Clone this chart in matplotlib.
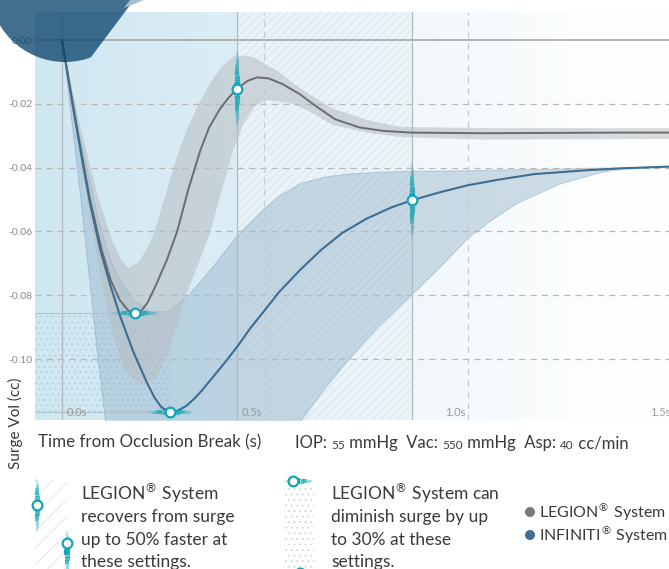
import numpy as np
import matplotlib
matplotlib.use("Agg")
import matplotlib.pyplot as plt
from matplotlib.colors import to_rgb, to_rgba
from matplotlib.patches import Circle, Polygon, Rectangle
from matplotlib.collections import LineCollection

plt.rcParams['font.family'] = ['Lato', 'DejaVu Sans']
plt.rcParams['hatch.linewidth'] = 0.6

# surge curves (time in s, surge volume in cc)
legion_t = [0, 0.02, 0.05, 0.08, 0.114, 0.14, 0.165, 0.19, 0.209, 0.225, 0.245, 0.271, 0.30,
            0.329, 0.36, 0.394, 0.42, 0.45, 0.475, 0.50, 0.53, 0.557, 0.59, 0.63, 0.68, 0.72,
            0.78, 0.85, 0.92, 1.0, 1.2, 1.4, 1.6, 1.75]
legion_v = [0, -0.013, -0.032, -0.050, -0.066, -0.0755, -0.0815, -0.0849, -0.0856, -0.0851,
            -0.0822, -0.0762, -0.0688, -0.0600, -0.0472, -0.0350, -0.0275, -0.0218, -0.0182,
            -0.0153, -0.0128, -0.0117, -0.0120, -0.0138, -0.0170, -0.0203, -0.0248, -0.0274,
            -0.0285, -0.0290, -0.0292, -0.0291, -0.0290, -0.0290]

infiniti_t = [0, 0.03, 0.06, 0.08, 0.109, 0.137, 0.166, 0.203, 0.243, 0.265, 0.285, 0.309, 0.33,
              0.355, 0.38, 0.40, 0.43, 0.466, 0.50, 0.537, 0.577, 0.62, 0.68, 0.74, 0.80, 0.87,
              0.94, 1.0, 1.08, 1.16, 1.25, 1.35, 1.5, 1.6, 1.75]
infiniti_v = [0, -0.020, -0.039, -0.051, -0.0655, -0.0765, -0.0865, -0.0975, -0.1075, -0.1122,
              -0.1152, -0.1166, -0.1162, -0.1147, -0.1122, -0.1098, -0.1058, -0.1010, -0.0962,
              -0.0905, -0.0850, -0.0790, -0.0721, -0.0658, -0.0605, -0.0560, -0.0525, -0.0502,
              -0.0477, -0.0455, -0.0437, -0.0420, -0.0408, -0.0402, -0.0396]

# spread bands
legion_band_t = [0, 0.05, 0.10, 0.14, 0.17, 0.19, 0.22, 0.25, 0.27, 0.30, 0.33, 0.357, 0.39,
                 0.423, 0.455, 0.489, 0.52, 0.55, 0.58, 0.62, 0.66, 0.70, 0.774, 0.87, 0.966,
                 1.2, 1.75]
legion_band_hi = [0, -0.026, -0.048, -0.062, -0.069, -0.0715, -0.0695, -0.064, -0.058, -0.047,
                  -0.036, -0.028, -0.020, -0.0135, -0.0085, -0.0052, -0.0048, -0.0055, -0.0075,
                  -0.0100, -0.0135, -0.0165, -0.0215, -0.0250, -0.0272, -0.0276, -0.0276]
legion_band_lo = [0, -0.036, -0.068, -0.090, -0.101, -0.105, -0.108, -0.1075, -0.1055, -0.0990,
                  -0.0890, -0.0793, -0.0700, -0.0605, -0.0475, -0.0345, -0.0260, -0.0210,
                  -0.0188, -0.0192, -0.0200, -0.0220, -0.0266, -0.0290, -0.0304, -0.0312, -0.0310]

infiniti_band_t = [0, 0.05, 0.10, 0.123, 0.15, 0.20, 0.25, 0.30, 0.36, 0.43, 0.50, 0.577, 0.62,
                   0.68, 0.75, 0.82, 0.90, 0.986, 1.08, 1.16, 1.23, 1.30, 1.42, 1.54, 1.60, 1.75]
infiniti_band_hi = [0, -0.030, -0.055, -0.064, -0.072, -0.081, -0.085, -0.085, -0.080, -0.071,
                    -0.0611, -0.0527, -0.0487, -0.0448, -0.0428, -0.0418, -0.0413, -0.0410,
                    -0.0409, -0.0408, -0.0406, -0.0405, -0.0403, -0.0400, -0.0399, -0.0396]
infiniti_band_lo = [0, -0.047, -0.098, -0.119, -0.135, -0.15, -0.15, -0.15, -0.15, -0.15,
                    -0.148, -0.142, -0.135, -0.1195, -0.109, -0.0997, -0.090, -0.081, -0.071,
                    -0.0618, -0.056, -0.051, -0.045, -0.0413, -0.0403, -0.0396]

# highlighted points
marker_t = [0.209, 0.309, 0.5, 1.0]
marker_v = [-0.0856, -0.1166, -0.0153, -0.0502]
marker_horizontal = [True, True, False, False]

y_ticks = [0.0, -0.02, -0.04, -0.06, -0.08, -0.10]
y_ticklabels = ['0.00', '-0.02', '-0.04', '-0.06', '-0.08', '-0.10']
x_ticklabels = ['0.0s', '0.5s', '1.0s', '1.5s']
solid_t = [0.0, 0.5, 1.0]
dashed_t = [0.577, 1.16]

REG = '$^{\u00ae}$'
legion_note = ['LEGION' + REG + ' System', 'recovers from surge', 'up to 50% faster at',
               'these settings.']
diminish_note = ['LEGION' + REG + ' System can', 'diminish surge by up', 'to 30% at these',
                 'settings.']
settings = [('IOP: ', 12), ('55', 8.5), (' mmHg  Vac: ', 12), ('550', 8.5),
            (' mmHg  Asp: ', 12), ('40', 8.5), (' cc/min', 12)]
series_names = ['LEGION' + REG + ' System', 'INFINITI' + REG + ' System']
series_colors = ['#77787a', '#3e6f92']

CYAN = '#14a5b5'
TXT = '#3a3a3a'
W, H = 669, 569
XMIN, XMAX = -0.077, 1.734
YMIN, YMAX = -0.1191, 0.0088

fig = plt.figure(figsize=(W / 100, H / 100), dpi=100)
ax = fig.add_axes([35 / W, 1 - 420 / H, (W - 35) / W, 408 / H])

# background wash, bluer on the left, fading out to the right
stops_t = [XMIN, 0.499, 0.501, 0.999, 1.001, 1.45, XMAX]
stops_c = ['#cfe7f1', '#dcedf5', '#e8f2f7', '#edf5f9', '#f2f7fa', '#fbfdfe', '#ffffff']
gx = np.linspace(XMIN, XMAX, 900)
rgb = np.array([to_rgb(c) for c in stops_c])
grad = np.stack([np.interp(gx, stops_t, rgb[:, i]) for i in range(3)], axis=-1)[None, :, :]
ax.imshow(grad, extent=[XMIN, XMAX, YMIN, YMAX], aspect='auto', zorder=0)

ax.fill_between([0.5, 1.0], YMIN, YMAX, facecolor='none', edgecolor='#d6e4eb',
                hatch='////', lw=0, zorder=1)
ax.fill_between([XMIN, infiniti_t[int(np.argmin(infiniti_v))]], min(infiniti_v), min(legion_v),
                facecolor='none', edgecolor='#b3cfdc', hatch='...', lw=0, zorder=1)

ax.fill_between(infiniti_band_t, infiniti_band_lo, infiniti_band_hi, facecolor='#8eb0c7',
                edgecolor='#7fa3bc', alpha=0.42, lw=0.8, zorder=2)
ax.fill_between(legion_band_t, legion_band_lo, legion_band_hi, facecolor='#b7bdc3',
                alpha=0.55, lw=0, zorder=2.1)

for yv in y_ticks[1:]:
    ax.axhline(yv, color='#b9b9b9', lw=0.9, ls=(0, (5, 4)), zorder=3)
ax.axhline(0, color='#a6a6a6', lw=1.2, zorder=3)
for tv in solid_t:
    ax.axvline(tv, color='#b0babf', lw=0.9, zorder=3)
for tv in dashed_t:
    ax.axvline(tv, color='#c6cbce', lw=0.9, ls=(0, (5, 4)), zorder=3)

# level guides from the axis to each curve's minimum
for tt, vv in [(legion_t, legion_v), (infiniti_t, infiniti_v)]:
    i = int(np.argmin(vv))
    ax.hlines(vv[i], XMIN, tt[i], color='#b2c3cb', lw=0.8, zorder=3)

ax.plot(legion_t, legion_v, color='#6b6c6e', lw=1.4, zorder=4, solid_joinstyle='round')
ax.plot(infiniti_t, infiniti_v, color='#3d6d90', lw=1.5, zorder=4, solid_joinstyle='round')

for lbl, pos in zip(x_ticklabels, [0.012, 0.512, 1.094, 1.68]):
    ax.text(pos, -0.1184, lbl, fontsize=8, color='#9a9a9a', va='bottom', zorder=5)

ax.set_xlim(XMIN, XMAX)
ax.set_ylim(YMIN, YMAX)
ax.set_xticks([])
ax.set_yticks(y_ticks)
ax.set_yticklabels(y_ticklabels)
ax.tick_params(axis='y', length=0, pad=2, labelsize=7.5, labelcolor='#8a8a8a')
for sp in ax.spines.values():
    sp.set_visible(False)

# overlay in pixel coordinates for markers, notes and decoration
ov = fig.add_axes([0, 0, 1, 1], zorder=5)
ov.set_xlim(0, W)
ov.set_ylim(H, 0)
ov.axis('off')


def glow(x, y, horizontal, half, dot=None):
    s = np.linspace(-1, 1, 41)
    if horizontal:
        pts = np.column_stack([x + s * half, np.full_like(s, y)])
    else:
        pts = np.column_stack([np.full_like(s, x), y + s * half])
    segs = np.stack([pts[:-1], pts[1:]], axis=1)
    mid = np.abs((s[:-1] + s[1:]) / 2)
    cols = [to_rgba(CYAN, a) for a in np.clip(1 - mid ** 1.8, 0, 1)]
    ov.add_collection(LineCollection(segs, colors=cols, linewidths=1.2 + 3.2 * (1 - mid),
                                     capstyle='butt'))
    if dot is not None:
        ov.plot(dot[0], dot[1], 'o', ms=7, mfc='white', mec=CYAN, mew=1.6)


for tv, vv, hz in zip(marker_t, marker_v, marker_horizontal):
    dx, dy = ax.transData.transform((tv, vv))
    py = H - dy
    glow(dx, py, hz, 24 if hz else 40, dot=(dx, py))

# corner decoration
blob = Circle((65, -14), 76, facecolor='#08426b', alpha=0.76, lw=0)
cut = Polygon([(-60, -60), (179, -60), (17.5, 155), (-60, 155)], transform=ov.transData)
ov.add_patch(blob)
blob.set_clip_path(cut)
ov.add_patch(Polygon([(130, 0), (144, 0), (124, 8)], facecolor='#a7bccd', lw=0))

# axis titles
ov.text(38, 447, 'Time from Occlusion Break (s)', fontsize=12.2, color=TXT, va='baseline')
ov.text(15, 423, 'Surge Vol (cc)', rotation=90, fontsize=11, color=TXT, ha='center', va='center')
prev = ov.text(295, 451, settings[0][0], fontsize=settings[0][1], color=TXT, va='bottom')
for s, fs in settings[1:]:
    prev = ov.annotate(s, xy=(1, 0), xycoords=prev, va='bottom', fontsize=fs, color=TXT)

# note icons
ov.add_patch(Rectangle((35, 480), 32, 95, facecolor='white', edgecolor='#dde3e6', hatch='//', lw=0))
glow(37, 505, False, 28, dot=(37, 505))
glow(67, 552, False, 22, dot=(67, 543))
ov.add_patch(Rectangle((284, 486), 30, 90, facecolor='white', edgecolor='#cfd6da', hatch='...', lw=0))
glow(298, 481, True, 15, dot=(293, 481))
glow(300, 573, True, 12, dot=(300, 573))

for k, (a, b) in enumerate(zip(legion_note, diminish_note)):
    yb = 500 + 22.4 * k
    ov.text(81, yb, a, fontsize=12.5, color=TXT, va='baseline')
    ov.text(331, yb, b, fontsize=12.5, color=TXT, va='baseline')

for k, (name, col) in enumerate(zip(series_names, series_colors)):
    yc = 512 + 23 * k
    ov.add_patch(Circle((530, yc), 5, facecolor=col, lw=0))
    ov.text(539, yc, name, fontsize=11.5, color=TXT, va='center')

fig.savefig('out.png', dpi=100)
